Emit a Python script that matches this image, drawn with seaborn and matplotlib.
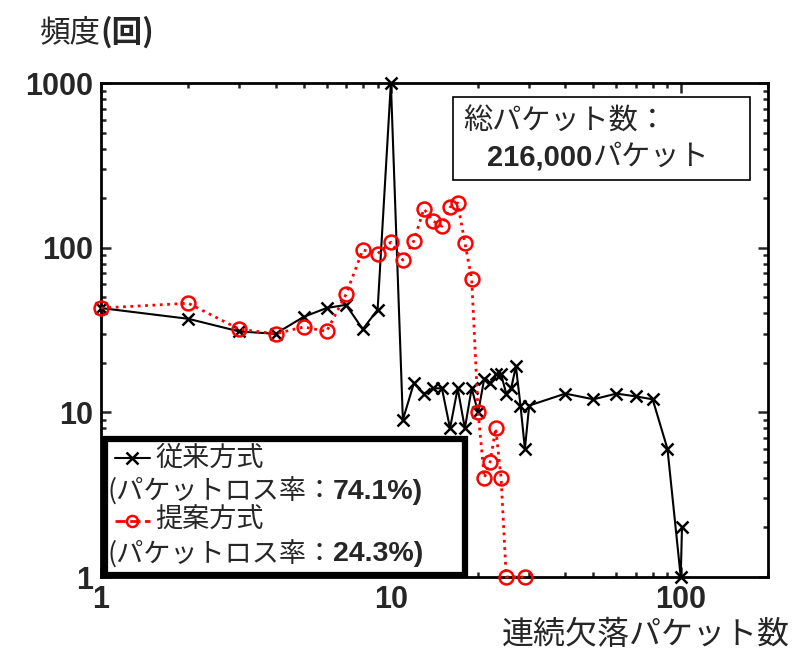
import matplotlib
matplotlib.use("Agg")
import matplotlib.pyplot as plt
from matplotlib.patches import Rectangle
from matplotlib.lines import Line2D
from matplotlib.ticker import FixedLocator, FixedFormatter, LogLocator, NullFormatter
import seaborn as sns
import pandas as pd

# 従来方式 (conventional)
x_conv = [1, 2, 3, 4, 5, 6, 7, 8, 9, 10, 11, 12, 13, 14, 15, 16, 17, 18, 19, 20,
          21, 22, 23, 24, 25, 26, 27, 28, 29, 30, 40, 50, 60, 70, 80, 90, 100, 101]
y_conv = [43, 37, 31, 30, 38, 43, 45, 32, 42, 1000, 9, 15, 13, 14, 14, 8, 14, 8, 14, 10,
          16, 15, 17, 17, 13, 14, 19, 11, 6, 11, 13, 12, 13, 12.5, 12, 6, 1, 2]

# 提案方式 (proposed)
x_prop = [1, 2, 3, 4, 5, 6, 7, 8, 9, 10, 11, 12, 13, 14, 15, 16, 17, 18, 19, 20,
          21, 22, 23, 24, 25, 29]
y_prop = [43, 46, 32, 30, 33, 31, 52, 97, 92, 108, 84, 110, 172, 145, 135, 176, 187, 107, 65, 10,
          4, 5, 8, 4, 1, 1]

x_ticks = [1, 10, 100]
y_ticks = [1, 10, 100, 1000]
loss_conv = "74.1%)"
loss_prop = "24.3%)"
total_packets = "216,000"

sns.set_style("ticks")
plt.rcParams['font.family'] = ['Noto Sans CJK JP', 'DejaVu Sans']
plt.rcParams['axes.linewidth'] = 2.0

jp = ['Noto Sans CJK JP', 'DejaVu Sans']
num = ['Liberation Sans', 'DejaVu Sans']

df_conv = pd.DataFrame({"x": x_conv, "y": y_conv})
df_prop = pd.DataFrame({"x": x_prop, "y": y_prop})

fig, ax = plt.subplots(figsize=(8.12, 6.59), dpi=100)
fig.subplots_adjust(left=0.1244, right=0.9458, bottom=0.1244, top=0.874)

sns.lineplot(data=df_conv, x="x", y="y", ax=ax, color="black", lw=1.5,
             marker="x", markersize=9, mew=1.8, mec="black", estimator=None,
             sort=False, clip_on=False, zorder=3)
sns.lineplot(data=df_prop, x="x", y="y", ax=ax, color="red", lw=2.0, ls=":",
             marker="o", markersize=10, mfc="none", mec="red", mew=1.8,
             estimator=None, sort=False, clip_on=False, zorder=4)

ax.set_xscale("log")
ax.set_yscale("log")
ax.set_xlim(1, 200)
ax.set_ylim(1, 1000)

ax.xaxis.set_major_locator(FixedLocator(x_ticks))
ax.xaxis.set_major_formatter(FixedFormatter([str(v) for v in x_ticks]))
ax.yaxis.set_major_locator(FixedLocator(y_ticks))
ax.yaxis.set_major_formatter(FixedFormatter([str(v) for v in y_ticks]))
ax.xaxis.set_minor_locator(LogLocator(base=10, subs=range(2, 10)))
ax.yaxis.set_minor_locator(LogLocator(base=10, subs=range(2, 10)))
ax.xaxis.set_minor_formatter(NullFormatter())
ax.yaxis.set_minor_formatter(NullFormatter())

ax.tick_params(which="both", direction="in", top=True, right=True, width=1.8)
ax.tick_params(which="major", length=7, pad=6)
ax.tick_params(which="minor", length=3.5)
for lab in ax.get_xticklabels() + ax.get_yticklabels():
    lab.set_family(num)
    lab.set_fontweight("bold")
    lab.set_fontsize(22)

ax.set_xlabel("")
ax.set_ylabel("")
for s in ax.spines.values():
    s.set_visible(True)
    s.set_color("black")

# axis titles
yl = fig.text(0.049, 0.951, "頻度", fontsize=22, family=jp, va="center", ha="left")
ax.annotate("(回)", xy=(1, 0.5), xycoords=yl, fontsize=22, family=jp,
            va="center", ha="left", fontweight="bold", annotation_clip=False)
fig.text(0.973, 0.036, "連続欠落パケット数", fontsize=23, family=jp,
         va="center", ha="right")

# total-packets box
ax.add_patch(Rectangle((0.528, 0.804), 0.445, 0.168, transform=ax.transAxes,
                       fill=True, fc="white", ec="black", lw=1.2, zorder=5))
ax.text(0.543, 0.921, "総パケット数：", transform=ax.transAxes, fontsize=21,
        family=jp, va="center", ha="left", zorder=6)
t = ax.text(0.579, 0.850, total_packets, transform=ax.transAxes, fontsize=21,
            family=num, fontweight="bold", va="center", ha="left", zorder=6)
ax.annotate("パケット", xy=(1, 0.5), xycoords=t, fontsize=21, family=jp,
            va="center", ha="left", zorder=6)

# legend box (drawn by hand, two-line entries)
ax.add_patch(Rectangle((0.006, 0.004), 0.539, 0.276, transform=ax.transAxes,
                       fill=True, fc="white", ec="black", lw=4.5, zorder=5,
                       clip_on=False))
ax.add_line(Line2D([0.021, 0.047, 0.073], [0.240, 0.240, 0.240],
                   transform=ax.transAxes, color="black", lw=1.5, marker="x",
                   markevery=[1], markersize=8, mew=1.8, zorder=6))
ax.add_line(Line2D([0.021, 0.047, 0.073], [0.114, 0.114, 0.114],
                   transform=ax.transAxes, color="red", lw=2.0, ls="--",
                   marker="o", markevery=[1], markersize=8, mfc="none",
                   mec="red", mew=1.8, zorder=6))
ax.text(0.081, 0.240, "従来方式", transform=ax.transAxes, fontsize=19.5,
        family=jp, va="center", ha="left", zorder=6)
ax.text(0.081, 0.114, "提案方式", transform=ax.transAxes, fontsize=19.5,
        family=jp, va="center", ha="left", zorder=6)
for yy, val in [(0.172, loss_conv), (0.046, loss_prop)]:
    t1 = ax.text(0.009, yy, "(パケットロス率：", transform=ax.transAxes,
                 fontsize=19.5, family=jp, va="center", ha="left", zorder=6)
    ax.annotate(val, xy=(1, 0.5), xycoords=t1, fontsize=20.5, family=num,
                fontweight="bold", va="center", ha="left", zorder=6)

fig.savefig("out.png", dpi=100)
